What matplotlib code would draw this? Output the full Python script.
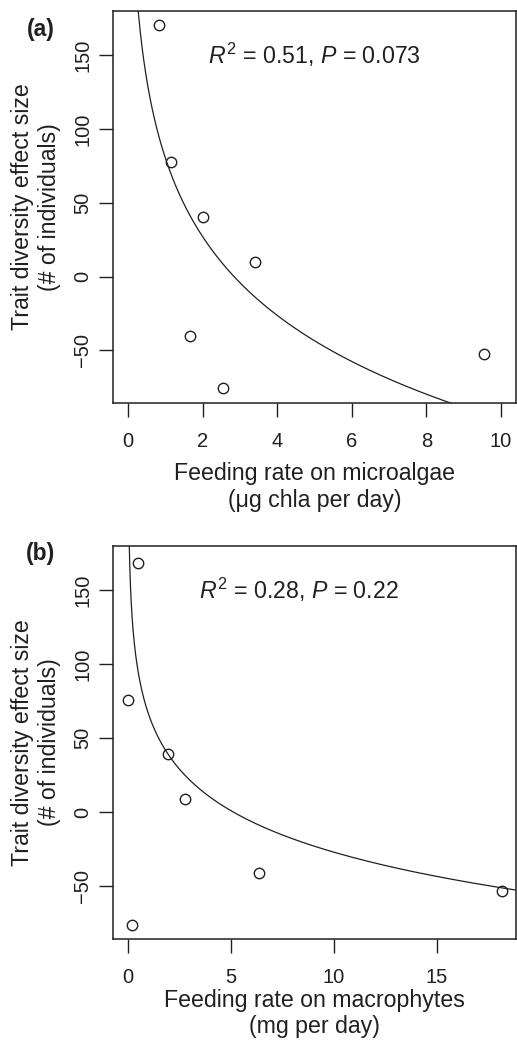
import matplotlib
matplotlib.use("Agg")
import matplotlib.pyplot as plt
import numpy as np

plt.rcParams['font.family'] = ['Liberation Sans', 'DejaVu Sans']
plt.rcParams['mathtext.fontset'] = 'custom'
plt.rcParams['mathtext.rm'] = 'Liberation Sans'
plt.rcParams['mathtext.it'] = 'Liberation Sans:italic'

# Panel (a) - microalgae
algae_rate = [0.84, 1.15, 2.02, 3.40, 1.66, 2.54, 9.53]
algae_effect = [170.3, 77.5, 40.4, 9.7, -40.2, -75.6, -52.2]
algae_fit = (80.5, -77.0)   # y = a + b*ln(x)

# Panel (b) - macrophytes
macro_rate = [0.49, 0.02, 1.96, 2.77, 6.37, 18.14, 0.18]
macro_effect = [168.5, 76.1, 39.1, 8.8, -41.1, -53.0, -76.4]
macro_fit = (66.0, -40.4)

ink = '#231f20'
tick_fs = 14.5
lab_fs = 16.7

fig = plt.figure(figsize=(5.17, 10.42), dpi=100)


def panel(rect, x, y, fit, xlim, xticks, stat, stat_x, xlabel, tag, tag_y, xpad):
    ax = fig.add_axes(rect)
    # fitted log curve
    xx = np.linspace(0.001, xlim[1], 2000)
    ax.plot(xx, fit[0] + fit[1] * np.log(xx), color=ink, lw=0.9)
    ax.plot(x, y, 'o', mfc='none', mec=ink, mew=1.0, ms=7.5, ls='none')
    ax.set_xlim(xlim)
    ax.set_ylim(-85.6, 180)
    ax.set_xticks(xticks)
    ax.set_yticks([-50, 0, 50, 100, 150])
    ax.tick_params(direction='out', length=10, width=1.0, colors=ink,
                   labelsize=tick_fs, pad=11)
    ax.tick_params(axis='y', pad=5)
    for lab in ax.get_yticklabels():
        lab.set_rotation(90)
        lab.set_va('center')
    for s in ax.spines.values():
        s.set_linewidth(1.1)
        s.set_color(ink)
    ax.text(stat_x, 150, stat, ha='center', va='center', fontsize=lab_fs, color=ink)
    ax.set_xlabel(xlabel, fontsize=lab_fs, color=ink, labelpad=xpad)
    ax.set_ylabel('Trait diversity effect size\n(# of individuals)',
                  fontsize=lab_fs, color=ink, labelpad=9)
    ax.text(-0.179, tag_y, tag, transform=ax.transAxes, ha='center', va='top',
            fontsize=16.5, fontweight='bold', color=ink)
    return ax


panel([0.2186, 0.6132, 0.7794, 0.3765], algae_rate, algae_effect, algae_fit,
      (-0.4, 10.4), [0, 2, 4, 6, 8, 10],
      r'$R^2$ = 0.51, $P$ = 0.073', 5.0,
      'Feeding rate on microalgae\n(\u03bcg chla per day)', '(a)', 0.981, 8)

panel([0.2186, 0.0989, 0.7794, 0.3774], macro_rate, macro_effect, macro_fit,
      (-0.73, 18.83), [0, 5, 10, 15],
      r'$R^2$ = 0.28, $P$ = 0.22', 8.3,
      'Feeding rate on macrophytes\n(mg per day)', '(b)', 1.009, 1)

fig.savefig('out.png', dpi=100)
